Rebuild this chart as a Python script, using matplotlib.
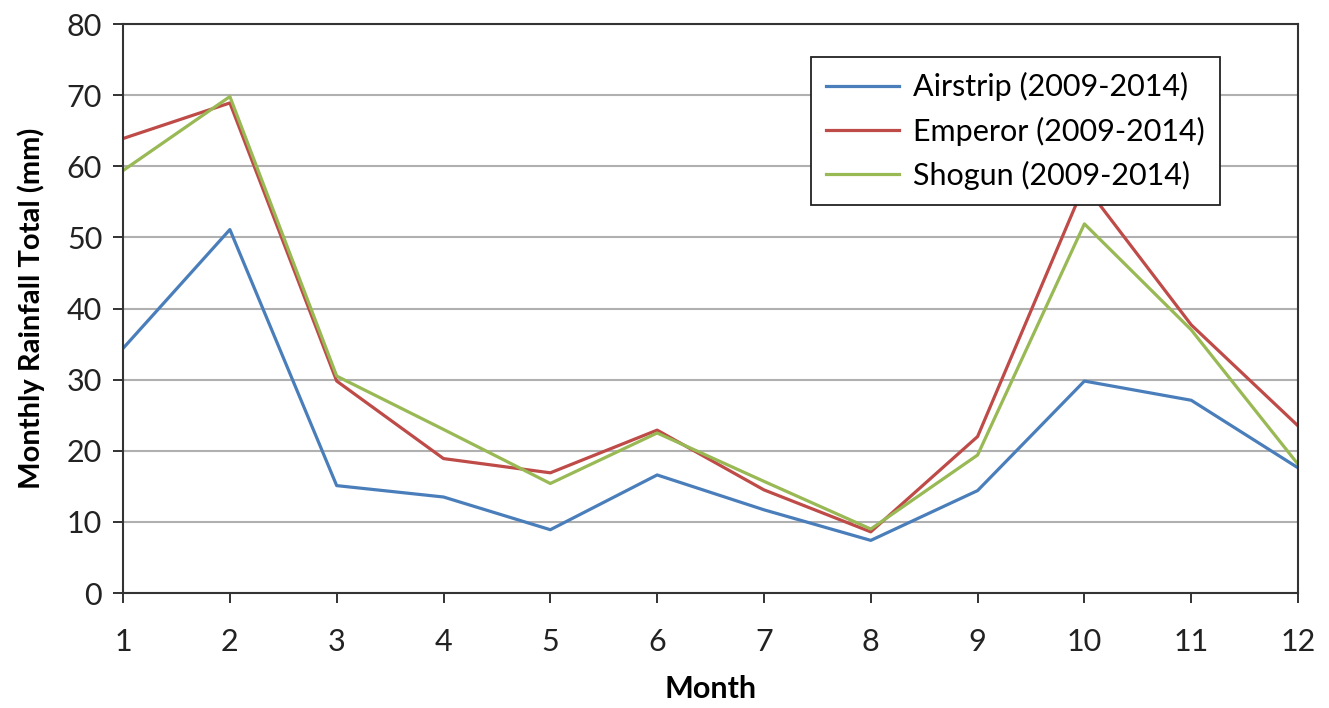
import numpy as np
import matplotlib.pyplot as plt

plt.rcParams['font.family'] = ['Lato', 'DejaVu Sans']

months = np.arange(1, 13)
airstrip = [34.4, 51.1, 15.1, 13.5, 8.9, 16.6, 11.7, 7.4, 14.4, 29.8, 27.1, 17.6]
emperor = [63.9, 68.9, 29.8, 18.9, 16.9, 22.9, 14.5, 8.6, 22.0, 57.4, 37.7, 23.5]
shogun = [59.4, 69.8, 30.5, 23.0, 15.4, 22.5, 15.7, 9.0, 19.4, 51.9, 37.0, 18.1]

fig = plt.figure(figsize=(13.29, 7.08), dpi=100)
ax = fig.add_axes([0.0926, 0.1624, 0.8841, 0.8037])

ax.plot(months, airstrip, color='#4A7EBB', lw=2.3, label='Airstrip (2009-2014)')
ax.plot(months, emperor, color='#BE4B48', lw=2.3, label='Emperor (2009-2014)')
ax.plot(months, shogun, color='#98B954', lw=2.3, label='Shogun (2009-2014)')

ax.set_xlim(1, 12)
ax.set_ylim(0, 80)
ax.set_xticks(months)
ax.set_yticks(np.arange(0, 81, 10))
ax.yaxis.grid(True, color='#b0b0b0', lw=1.5)
ax.set_axisbelow(True)
ax.tick_params(axis='both', direction='out', length=7, width=1.3, labelsize=22, colors='#222222')
ax.tick_params(axis='x', pad=18)
ax.tick_params(axis='y', pad=8)
for s in ax.spines.values():
    s.set_color('#333333')
    s.set_linewidth(1.5)

ax.set_xlabel('Month', fontsize=22, fontweight='bold', labelpad=14)
ax.set_ylabel('Monthly Rainfall Total (mm)', fontsize=21, fontweight='bold', labelpad=16)

# legend box sits over the October peak, opaque
leg = ax.legend(loc='upper right', bbox_to_anchor=(0.9336, 0.942), borderaxespad=0,
                fontsize=22, frameon=True, fancybox=False, edgecolor='#222222',
                framealpha=1, handlelength=2.4, borderpad=0.5, labelspacing=0.5,
                handletextpad=0.45)
leg.get_frame().set_linewidth(1.3)

plt.savefig('out.png', dpi=100)
